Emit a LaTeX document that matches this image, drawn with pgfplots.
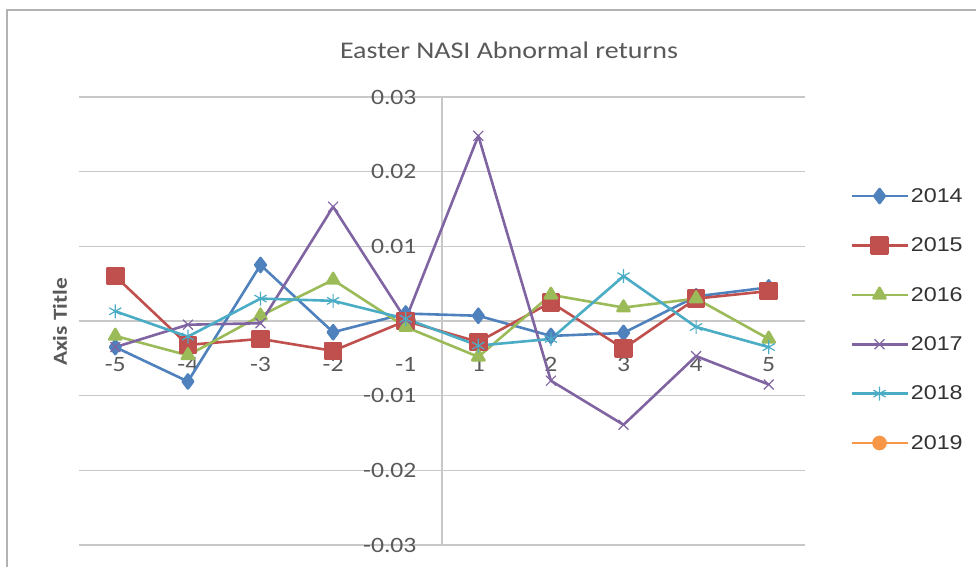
\documentclass[border=0pt]{standalone}
\usepackage{fontspec}
\setmainfont{Carlito}[FakeStretch=1.17]
\newfontfamily\legfont{Liberation Sans}[FakeStretch=1.17]
\usepackage{pgfplots}
\pgfplotsset{compat=1.18}
\definecolor{c14}{RGB}{79,129,189}
\definecolor{c15}{RGB}{192,80,77}
\definecolor{c16}{RGB}{155,187,89}
\definecolor{c17}{RGB}{128,100,162}
\definecolor{c18}{RGB}{75,172,198}
\definecolor{c19}{RGB}{247,150,70}
\definecolor{txt}{RGB}{89,89,89}
\definecolor{gridc}{RGB}{200,200,200}
\begin{document}
\begin{tikzpicture}[x=1bp,y=1bp]
\path[use as bounding box] (-79,-22) rectangle (897,545);
\draw[gray!60, line width=2bp] (-72,-30) -- (-72,535) -- (900,535);
\begin{axis}[
  at={(0,0)}, anchor=south west,
  scale only axis, width=726bp, height=448bp,
  xmin=-5, xmax=5, ymin=-0.03, ymax=0.03,
  axis x line=center, axis y line=center,
  axis line style={draw=gridc, line width=1.2bp, -},
  hide obscured y ticks=false, hide obscured x ticks=false,
  scaled y ticks=false,
  xtick={-4.5,-3.5,-2.5,-1.5,-0.5,0.5,1.5,2.5,3.5,4.5},
  xticklabels={-5,-4,-3,-2,-1,1,2,3,4,5},
  ytick={-0.03,-0.02,-0.01,0,0.01,0.02,0.03},
  yticklabels={-0.03,-0.02,-0.01,{},0.01,0.02,0.03},
  major tick length=0pt,
  xmajorgrids=false, ymajorgrids=true,
  y grid style={draw=gridc, line width=1.2bp},
  tick label style={font=\fontsize{22}{24}\selectfont, text=txt},
  yticklabel style={xshift=-22bp},
  xticklabel style={yshift=-33bp},
  clip=false,
  legend image code/.code={\draw[mark repeat=2,mark phase=2,#1] plot coordinates {(0bp,0bp)(28bp,0bp)(56bp,0bp)};},
  legend style={draw=none, fill=none, at={(1.062,0.801)}, anchor=north west,
    font=\legfont\fontsize{20}{22}\selectfont, text=black!80,
    row sep=30bp, inner sep=0pt},
  every axis plot/.append style={line width=2.6bp, line join=round},
]
\addplot[c14, mark=diamond*, mark size=7bp] coordinates {
(-4.5,-0.0035) (-3.5,-0.0081) (-2.5,0.0075) (-1.5,-0.0015) (-0.5,0.001)
(0.5,0.0007) (1.5,-0.002) (2.5,-0.0016) (3.5,0.0033) (4.5,0.0045)};
\addlegendentry{2014}
\addplot[c15, mark=square*, mark size=8bp] coordinates {
(-4.5,0.006) (-3.5,-0.0032) (-2.5,-0.0024) (-1.5,-0.004) (-0.5,0.0)
(0.5,-0.0028) (1.5,0.0025) (2.5,-0.0037) (3.5,0.003) (4.5,0.004)};
\addlegendentry{2015}
\addplot[c16, mark=triangle*, mark size=7bp] coordinates {
(-4.5,-0.002) (-3.5,-0.0046) (-2.5,0.0007) (-1.5,0.0055) (-0.5,-0.0008)
(0.5,-0.0048) (1.5,0.0035) (2.5,0.0018) (3.5,0.003) (4.5,-0.0024)};
\addlegendentry{2016}
\addplot[c17, mark=x, mark size=7bp, mark options={line width=1.2bp}] coordinates {
(-4.5,-0.0035) (-3.5,-0.0005) (-2.5,-0.0003) (-1.5,0.0153) (-0.5,0.0002)
(0.5,0.0248) (1.5,-0.008) (2.5,-0.0139) (3.5,-0.0047) (4.5,-0.0085)};
\addlegendentry{2017}
\addplot[c18, mark=asterisk, mark size=7bp, mark options={line width=1.2bp}] coordinates {
(-4.5,0.0013) (-3.5,-0.0021) (-2.5,0.003) (-1.5,0.0027) (-0.5,0.0003)
(0.5,-0.0033) (1.5,-0.0024) (2.5,0.006) (3.5,-0.0008) (4.5,-0.0035)};
\addlegendentry{2018}
\addlegendimage{c19, line width=2.6bp, mark=*, mark size=6bp}
\addlegendentry{2019}
\node[anchor=east, xshift=-22bp, font=\fontsize{22}{24}\selectfont, text=txt] at (axis cs:0,0) {0};
\end{axis}
\node[text=txt, font=\fontsize{24}{26}\selectfont] at (430,495) {Easter NASI Abnormal returns};
\node[text=txt, font=\bfseries\fontsize{20}{22}\selectfont, rotate=90] at (-19,223) {Axis Title};
\end{tikzpicture}
\end{document}
